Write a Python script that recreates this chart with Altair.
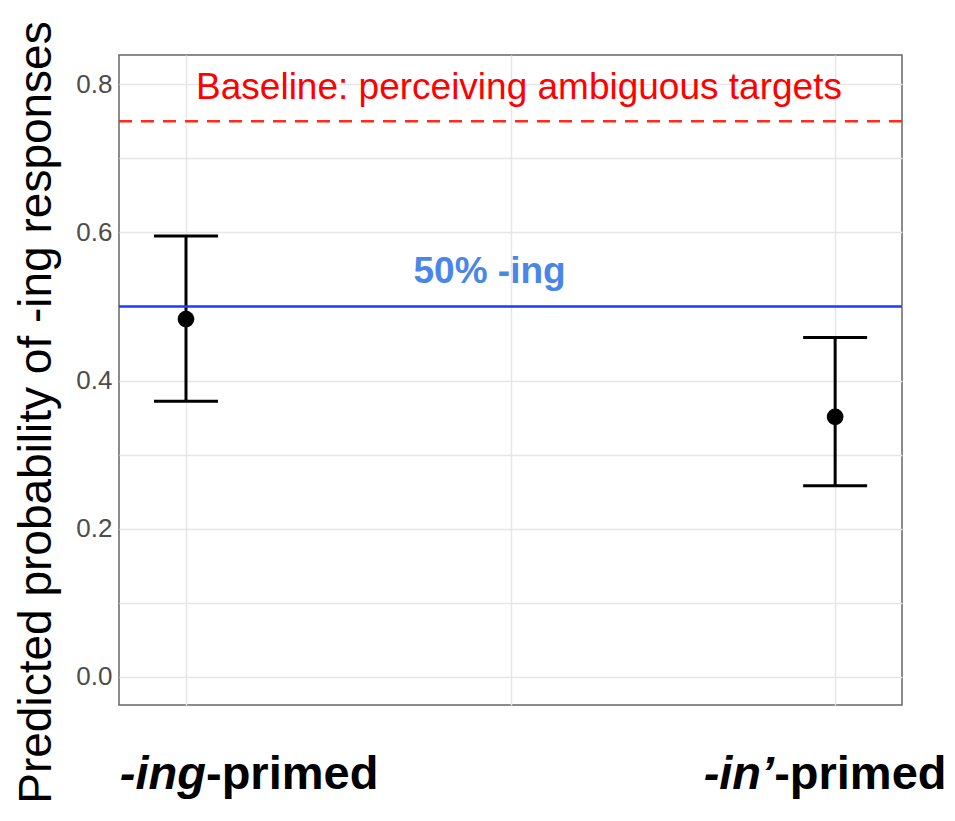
import altair as alt
import pandas as pd

# Data
conditions = ["ing", "in"]
x_pos = [1, 2]
estimates = [0.483, 0.351]
lower = [0.372, 0.258]
upper = [0.595, 0.458]

baseline_value = 0.75
fifty_value = 0.5

label_italic = ["-ing", "-in\u2019"]
label_bold = ["-primed", "-primed"]

y_grid = [0.0, 0.1, 0.2, 0.3, 0.4, 0.5, 0.6, 0.7, 0.8]
x_grid = [1, 1.5, 2]

df = pd.DataFrame({"cond": conditions, "x": x_pos, "est": estimates, "lo": lower, "hi": upper})

FONT = "Liberation Sans"
xscale = alt.Scale(domain=[0.8968, 2.103], nice=False, zero=False)
yscale = alt.Scale(domain=[-0.0382, 0.8396], nice=False, zero=False)

xax = alt.Axis(values=x_grid, labels=False, ticks=False, domain=False, title=None,
               grid=True, gridColor="#e6e6e6", gridWidth=1.5)
yax = alt.Axis(values=y_grid, ticks=False, domain=False, grid=True, gridColor="#e6e6e6", gridWidth=1.5,
               labelExpr="round(datum.value*10) % 2 == 0 ? format(datum.value, '.1f') : ''",
               labelFont=FONT, labelFontSize=26, labelColor="#4d4d4d", labelPadding=7,
               title="Predicted probability of -ing responses", titleFont=FONT, titleFontSize=46,
               titleFontWeight="normal", titleColor="#000000", titleAngle=270, titleX=-69, titleY=357,
               titleAlign="center", titleBaseline="alphabetic")

base = alt.Chart(df)

stems = base.mark_rule(color="black", strokeWidth=3).encode(
    x=alt.X("x:Q", scale=xscale, axis=xax),
    y=alt.Y("lo:Q", scale=yscale, axis=yax),
    y2="hi:Q",
)
caps_lo = base.mark_tick(color="black", orient="horizontal", size=64, thickness=3, opacity=1).encode(
    x=alt.X("x:Q", scale=xscale), y=alt.Y("lo:Q", scale=yscale))
caps_hi = base.mark_tick(color="black", orient="horizontal", size=64, thickness=3, opacity=1).encode(
    x=alt.X("x:Q", scale=xscale), y=alt.Y("hi:Q", scale=yscale))
points = base.mark_circle(color="black", opacity=1, size=280).encode(
    x=alt.X("x:Q", scale=xscale), y=alt.Y("est:Q", scale=yscale))

ref = pd.DataFrame({"base": [baseline_value], "fifty": [fifty_value]})
red_line = alt.Chart(ref).mark_rule(color="#ff2a1a", strokeWidth=2.5, strokeDash=[13, 9]).encode(
    y=alt.Y("base:Q", scale=yscale))
blue_line = alt.Chart(ref).mark_rule(color="#1a3cff", strokeWidth=2.5).encode(
    y=alt.Y("fifty:Q", scale=yscale))

ann = pd.DataFrame({
    "text": ["Baseline: perceiving ambiguous targets", "50% -ing"],
    "x": [1.513, 1.4677],
    "y": [0.780, 0.5317],
})
red_text = alt.Chart(ann.iloc[[0]]).mark_text(font=FONT, fontSize=37, color="#ff0000",
                                              align="center", baseline="alphabetic").encode(
    x=alt.X("x:Q", scale=xscale), y=alt.Y("y:Q", scale=yscale), text="text:N")
blue_text = alt.Chart(ann.iloc[[1]]).mark_text(font=FONT, fontSize=37, fontWeight="bold", color="#4a86e8",
                                               align="center", baseline="alphabetic").encode(
    x=alt.X("x:Q", scale=xscale), y=alt.Y("y:Q", scale=yscale), text="text:N")

labs = pd.DataFrame({"x": x_pos, "it": label_italic, "bd": label_bold})
LS = 47
it1 = alt.Chart(labs.iloc[[0]]).mark_text(font=FONT, fontSize=LS, fontWeight="bold", fontStyle="italic",
                                          align="right", baseline="alphabetic", dx=20, color="black").encode(
    x=alt.X("x:Q", scale=xscale), y=alt.value(734), text="it:N")
bd1 = alt.Chart(labs.iloc[[0]]).mark_text(font=FONT, fontSize=LS, fontWeight="bold",
                                          align="left", baseline="alphabetic", dx=20, color="black").encode(
    x=alt.X("x:Q", scale=xscale), y=alt.value(734), text="bd:N")
it2 = alt.Chart(labs.iloc[[1]]).mark_text(font=FONT, fontSize=LS, fontWeight="bold", fontStyle="italic",
                                          align="right", baseline="alphabetic", dx=-61, color="black").encode(
    x=alt.X("x:Q", scale=xscale), y=alt.value(734), text="it:N")
bd2 = alt.Chart(labs.iloc[[1]]).mark_text(font=FONT, fontSize=LS, fontWeight="bold",
                                          align="left", baseline="alphabetic", dx=-61, color="black").encode(
    x=alt.X("x:Q", scale=xscale), y=alt.value(734), text="bd:N")

chart = alt.layer(
    stems, red_line, blue_line, caps_lo, caps_hi, points, red_text, blue_text, it1, bd1, it2, bd2
).properties(
    width=783, height=650,
    background="white",
    autosize=alt.AutoSizeParams(type="none"),
    padding={"left": 111, "top": 47, "right": 45, "bottom": 104},
).configure_view(
    stroke="#666666", strokeWidth=1.5, clip=False
)

chart.save("out.html", embed_options={"renderer": "svg", "actions": False})
